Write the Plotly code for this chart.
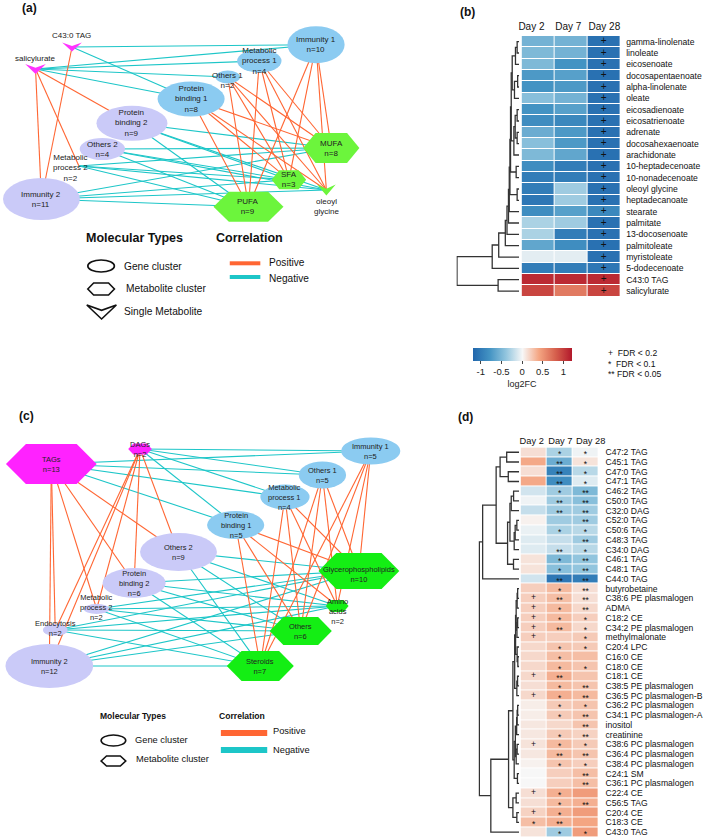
import plotly.graph_objects as go

W, H = 709, 838
FONT = "Liberation Sans, Arial, sans-serif"
INK = "#222222"
POS_COL = "#FF6633"
NEG_COL = "#1DC6C8"

# ====================== DATA ======================
# ---------- (a) network: fatty-acid study ----------
A_NODES = ["Immunity 1", "Metabolic process 1", "Others 1", "Protein binding 1",
           "Protein binding 2", "Others 2", "Metabolic process 2", "Immunity 2",
           "MUFA", "SFA", "PUFA", "C43:0 TAG", "salicylurate", "oleoyl glycine"]
A_NODE_N = [10, 4, 2, 8, 9, 4, 2, 11, 8, 3, 9, None, None, None]
A_KIND = ["gene_up", "gene_up", "gene_up", "gene_up",
          "gene_down", "gene_down", "gene_down", "gene_down",
          "metab_a", "metab_a", "metab_a", "single_mag", "single_mag", "single_green"]
A_TEXT = ["Immunity 1", "Metabolic<br>process 1", "Others 1", "Protein<br>binding 1",
          "Protein<br>binding 2", "Others 2", "Metabolic<br>process 2", "Immunity 2",
          "MUFA", "SFA", "PUFA", "C43:0 TAG", "salicylurate", "oleoyl<br>glycine"]
A_POSITIVE = [
    ("Immunity 1", "MUFA"), ("Immunity 1", "SFA"), ("Immunity 1", "PUFA"), ("Immunity 1", "oleoyl glycine"),
    ("Metabolic process 1", "MUFA"), ("Metabolic process 1", "SFA"), ("Metabolic process 1", "PUFA"), ("Metabolic process 1", "oleoyl glycine"),
    ("Others 1", "MUFA"), ("Others 1", "SFA"), ("Others 1", "PUFA"), ("Others 1", "oleoyl glycine"),
    ("Protein binding 1", "MUFA"), ("Protein binding 1", "SFA"), ("Protein binding 1", "PUFA"), ("Protein binding 1", "oleoyl glycine"),
    ("salicylurate", "Protein binding 2"), ("salicylurate", "Metabolic process 2"), ("salicylurate", "Immunity 2"),
    ("C43:0 TAG", "Immunity 2"),
]
A_NEGATIVE = [
    ("Protein binding 2", "MUFA"), ("Protein binding 2", "SFA"), ("Protein binding 2", "PUFA"), ("Protein binding 2", "oleoyl glycine"),
    ("Others 2", "MUFA"), ("Others 2", "SFA"), ("Others 2", "PUFA"), ("Others 2", "oleoyl glycine"),
    ("Metabolic process 2", "MUFA"), ("Metabolic process 2", "SFA"), ("Metabolic process 2", "PUFA"), ("Metabolic process 2", "oleoyl glycine"),
    ("Immunity 2", "MUFA"), ("Immunity 2", "SFA"), ("Immunity 2", "PUFA"), ("Immunity 2", "oleoyl glycine"),
    ("C43:0 TAG", "Immunity 1"), ("C43:0 TAG", "Protein binding 1"),
    ("salicylurate", "Immunity 1"), ("salicylurate", "Metabolic process 1"),
    ("salicylurate", "Others 1"), ("salicylurate", "Protein binding 1"),
]

# ---------- (c) network: lipid study ----------
C_NODES = ["TAGs", "DAGs", "Immunity 1", "Others 1", "Metabolic process 1", "Protein binding 1",
           "Others 2", "Protein binding 2", "Metabolic process 2", "Endocytosis", "Immunity 2",
           "Glycerophospholipids", "Amino acids", "Others", "Steroids"]
C_NODE_N = [13, 2, 5, 5, 4, 5, 9, 6, 2, 2, 12, 10, 2, 6, 7]
C_KIND = ["metab_mag", "metab_mag", "gene_up", "gene_up", "gene_up", "gene_up",
          "gene_down", "gene_down", "gene_down", "gene_down", "gene_down",
          "metab_c", "metab_c", "metab_c", "metab_c"]
C_TEXT = ["TAGs", "DAGs", "Immunity 1", "Others 1", "Metabolic<br>process 1", "Protein<br>binding 1",
          "Others 2", "Protein<br>binding 2", "Metabolic<br>process 2", "Endocytosis", "Immunity 2",
          "Glycerophospholipids", "Amino<br>acids", "Others", "Steroids"]
C_POSITIVE = [
    ("TAGs", "Others 2"), ("TAGs", "Protein binding 2"), ("TAGs", "Metabolic process 2"), ("TAGs", "Endocytosis"), ("TAGs", "Immunity 2"),
    ("DAGs", "Others 2"), ("DAGs", "Protein binding 2"), ("DAGs", "Metabolic process 2"), ("DAGs", "Endocytosis"), ("DAGs", "Immunity 2"),
    ("Immunity 1", "Glycerophospholipids"), ("Immunity 1", "Amino acids"), ("Immunity 1", "Others"), ("Immunity 1", "Steroids"),
    ("Others 1", "Glycerophospholipids"), ("Others 1", "Amino acids"), ("Others 1", "Others"), ("Others 1", "Steroids"),
    ("Metabolic process 1", "Glycerophospholipids"), ("Metabolic process 1", "Amino acids"), ("Metabolic process 1", "Others"), ("Metabolic process 1", "Steroids"),
    ("Protein binding 1", "Glycerophospholipids"), ("Protein binding 1", "Amino acids"), ("Protein binding 1", "Others"), ("Protein binding 1", "Steroids"),
]
C_NEGATIVE = [
    ("TAGs", "Immunity 1"), ("TAGs", "Others 1"), ("TAGs", "Metabolic process 1"), ("TAGs", "Protein binding 1"),
    ("DAGs", "Immunity 1"), ("DAGs", "Others 1"), ("DAGs", "Metabolic process 1"), ("DAGs", "Protein binding 1"),
    ("Others 2", "Glycerophospholipids"), ("Others 2", "Amino acids"), ("Others 2", "Others"), ("Others 2", "Steroids"),
    ("Protein binding 2", "Glycerophospholipids"), ("Protein binding 2", "Amino acids"), ("Protein binding 2", "Others"), ("Protein binding 2", "Steroids"),
    ("Metabolic process 2", "Glycerophospholipids"), ("Metabolic process 2", "Amino acids"), ("Metabolic process 2", "Others"), ("Metabolic process 2", "Steroids"),
    ("Endocytosis", "Glycerophospholipids"), ("Endocytosis", "Amino acids"), ("Endocytosis", "Others"), ("Endocytosis", "Steroids"),
    ("Immunity 2", "Glycerophospholipids"), ("Immunity 2", "Amino acids"), ("Immunity 2", "Others"), ("Immunity 2", "Steroids"),
]

# ---------- (b) heatmap ----------
DAYS = ["Day 2", "Day 7", "Day 28"]
B_ROWS = ["gamma-linolenate", "linoleate", "eicosenoate", "docosapentaenoate", "alpha-linolenate",
          "oleate", "eicosadienoate", "eicosatrienoate", "adrenate", "docosahexaenoate", "arachidonate",
          "10-heptadecenoate", "10-nonadecenoate", "oleoyl glycine", "heptadecanoate", "stearate",
          "palmitate", "13-docosenoate", "palmitoleate", "myristoleate", "5-dodecenoate",
          "C43:0 TAG", "salicylurate"]
B_DAY2 = [-0.55, -0.5, -0.5, -0.75, -0.8, -0.45, -0.8, -0.85, -0.6, -0.45, -0.5,
          -0.85, -1.0, -1.0, -1.05, -0.85, -0.3, -0.3, -0.65, -0.08, -1.0, 1.1, 0.95]
B_DAY7 = [-0.55, -0.55, -0.8, -0.7, -0.75, -0.55, -0.7, -0.9, -0.75, -0.75, -0.65,
          -1.0, -1.0, -0.35, -0.35, -0.7, -0.35, -1.0, -0.85, -0.08, -1.0, 1.1, 0.65]
B_DAY28 = [-1.1, -1.1, -1.1, -1.1, -1.1, -1.1, -1.1, -1.1, -1.1, -1.1, -1.1,
           -1.1, -1.1, -1.1, -1.1, -0.9, -1.1, -1.1, -1.1, -1.1, -1.05, 1.1, 0.95]
B_SIG_DAY2 = ["", "", "", "", "", "", "", "", "", "", "", "", "", "", "", "", "", "", "", "", "", "", ""]
B_SIG_DAY7 = ["", "", "", "", "", "", "", "", "", "", "", "", "", "", "", "", "", "", "", "", "", "", ""]
B_SIG_DAY28 = ["+", "+", "+", "+", "+", "+", "+", "+", "+", "+", "+", "+", "+", "+", "+", "+",
               "+", "+", "+", "+", "+", "+", "+"]
# hierarchical clustering merges: (left, right, height); "mK" = K-th merge
B_MERGES = [
    (0, 1, 2.0), ("m0", 2, 3.7), (3, 4, 1.5), ("m2", 5, 4.7), ("m1", "m3", 7.0),
    (6, 7, 2.0), (8, 9, 2.0), ("m5", "m6", 4.0), ("m7", 10, 5.3), ("m4", "m8", 8.0),
    (11, 12, 3.0), ("m9", "m10", 8.7), (13, 14, 2.0), ("m11", "m12", 9.3),
    ("m13", 15, 10.0), ("m14", 16, 10.8), ("m15", 17, 12.3), ("m16", 18, 14.0),
    ("m17", 19, 20.7), ("m18", 20, 27.3), (21, 22, 21.3), ("m19", "m20", 63.0),
]

# ---------- (d) heatmap ----------
D_ROWS = ["C47:2 TAG", "C45:1 TAG", "C47:0 TAG", "C47:1 TAG", "C46:2 TAG", "C50:0 TAG",
          "C32:0 DAG", "C52:0 TAG", "C50:6 TAG", "C48:3 TAG", "C34:0 DAG", "C46:1 TAG",
          "C48:1 TAG", "C44:0 TAG", "butyrobetaine", "C38:6 PE plasmalogen", "ADMA",
          "C18:2 CE", "C34:2 PE plasmalogen", "methylmalonate", "C20:4 LPC", "C16:0 CE",
          "C18:0 CE", "C18:1 CE", "C38:5 PE plasmalogen", "C36:5 PC plasmalogen-B",
          "C36:2 PC plasmalogen", "C34:1 PC plasmalogen-A", "inositol", "creatinine",
          "C38:6 PC plasmalogen", "C36:4 PC plasmalogen", "C38:4 PC plasmalogen", "C24:1 SM",
          "C36:1 PC plasmalogen", "C22:4 CE", "C56:5 TAG", "C20:4 CE", "C18:3 CE", "C43:0 TAG"]
D_DAY2 = [0.12, 0.38, 0.12, 0.38, -0.15, -0.03, -0.2, 0.03, -0.05, -0.1, -0.1, 0.1, 0.1, -0.15,
          0.2, 0.2, 0.2, 0.2, 0.2, 0.2, 0.15, 0.15, 0.15, 0.15, 0.12, 0.15,
          0.05, 0.05, 0.08, 0.08, 0.1, 0.08, 0.03, 0.0, 0.0, 0.12, 0.12, 0.18, 0.28, 0.1]
D_DAY7 = [-0.3, -0.6, -0.95, -0.85, -0.35, -0.35, -0.35, -0.35, -0.3, -0.2, -0.2, -0.5, -0.45, -1.05,
          0.3, 0.28, 0.3, 0.3, 0.3, 0.2, 0.25, 0.28, 0.3, 0.35, 0.3, 0.35,
          0.22, 0.22, 0.15, 0.22, 0.3, 0.3, 0.25, 0.2, 0.2, 0.35, 0.3, 0.35, 0.35, -0.35]
D_DAY28 = [-0.03, 0.1, -0.25, -0.1, -0.5, -0.45, -0.35, -0.35, -0.25, -0.35, -0.25, -0.4, -0.4, -1.0,
           0.12, 0.12, 0.15, 0.2, 0.15, 0.22, 0.22, 0.28, 0.25, 0.25, 0.25, 0.3,
           0.25, 0.25, 0.25, 0.18, 0.22, 0.25, 0.2, 0.28, 0.28, 0.45, 0.35, 0.45, 0.4, 0.45]
D_SIG_DAY2 = ["", "", "", "", "", "", "", "", "", "", "", "", "", "",
              "", "+", "+", "+", "+", "+", "", "", "", "+", "", "+",
              "", "", "", "", "+", "", "", "", "", "+", "", "+", "*", ""]
D_SIG_DAY7 = ["*", "**", "**", "**", "*", "**", "**", "", "*", "", "**", "*", "*", "**",
              "*", "**", "*", "*", "**", "", "*", "*", "*", "**", "*", "*",
              "*", "*", "", "*", "*", "**", "*", "", "", "*", "*", "*", "**", "*"]
D_SIG_DAY28 = ["*", "*", "*", "*", "**", "**", "**", "**", "*", "**", "*", "**", "**", "**",
               "**", "**", "**", "*", "*", "*", "*", "", "*", "", "**", "**",
               "*", "**", "**", "**", "*", "**", "*", "**", "**", "", "**", "", "", "*"]
D_MERGES = [
    (0, 1, 12.6), (2, 3, 11.0), ("m0", "m1", 19.3),
    (4, 5, 5.6), ("m3", 6, 8.0), (7, 8, 2.3), ("m5", 9, 4.0), ("m6", 10, 5.0),
    ("m4", "m7", 9.3), (11, 12, 5.7), ("m8", "m9", 11.7), ("m2", "m10", 23.3),
    ("m11", 13, 37.0),
    (14, 15, 1.5), ("m13", 16, 2.0), (17, 18, 1.5), ("m15", 19, 2.2), ("m14", "m16", 3.0),
    (21, 22, 1.3), (20, "m18", 2.0), ("m17", "m19", 3.6), (23, 24, 1.6), ("m21", 25, 2.3),
    ("m20", "m22", 4.5), (26, 27, 1.5), ("m24", 28, 2.0), ("m25", 29, 2.5), (30, 31, 2.0),
    ("m27", 32, 3.0), ("m26", "m28", 3.8), (33, 34, 1.7), ("m29", "m30", 5.0),
    ("m23", "m31", 6.3), (35, 36, 3.0), (37, 38, 2.3), ("m33", "m34", 6.3),
    ("m32", "m35", 10.7), ("m36", 39, 28.7), ("m12", "m37", 40.3),
]

# ====================== NETWORK LAYOUTS (page pixels: cx, cy, w, h) ======================
A_LAYOUT = {
    "Immunity 1": (317.5, 44.7, 58, 37), "Metabolic process 1": (260, 61, 45, 23),
    "Others 1": (228, 77, 25, 13), "Protein binding 1": (190.8, 99, 68, 35),
    "Protein binding 2": (130.8, 123.3, 72, 35), "Others 2": (100.8, 149, 46, 22),
    "Metabolic process 2": (77, 166, 0, 0), "Immunity 2": (39, 199, 78, 42),
    "MUFA": (333, 148, 57, 30), "SFA": (290, 179.7, 35, 19), "PUFA": (249, 206.7, 71, 30),
    "C43:0 TAG": (70, 47, 20, 9), "salicylurate": (33, 69, 21, 10), "oleoyl glycine": (328, 190, 19, 11),
}
A_LABEL_SHIFT = {"Metabolic process 2": (-9, 2), "Others 1": (0, 3), "C43:0 TAG": (-1, -12),
                 "salicylurate": (0, -11), "oleoyl glycine": (0, 16)}
C_LAYOUT = {
    "TAGs": (49, 464, 92, 40), "DAGs": (139, 449, 24, 11),
    "Immunity 1": (373, 451, 60, 27), "Others 1": (324, 475, 48, 27),
    "Metabolic process 1": (286, 497, 50, 25), "Protein binding 1": (236, 525, 58, 28),
    "Others 2": (178, 552, 78, 38), "Protein binding 2": (133, 583, 64, 30),
    "Metabolic process 2": (95, 609, 26, 10), "Endocytosis": (53, 630, 25, 12),
    "Immunity 2": (47, 666, 89, 44), "Glycerophospholipids": (361, 571, 82, 36),
    "Amino acids": (339, 606, 23, 12), "Others": (302, 631, 63, 28), "Steroids": (261, 666, 68, 30),
}
C_LABEL_SHIFT = {"Glycerophospholipids": (0, 3), "Amino acids": (0, 5),
                 "Metabolic process 2": (0, -2), "Endocytosis": (0, -2)}

KIND_STYLE = {
    "gene_up": ("ellipse", "#8BCBF1"),
    "gene_down": ("ellipse", "#CACAF8"),
    "metab_a": ("hexagon", "#6CF53C"),
    "metab_c": ("hexagon", "#14EE14"),
    "metab_mag": ("hexagon", "#FF22FF"),
    "single_mag": ("arrow", "#FF33FF"),
    "single_green": ("arrow", "#6CF53C"),
}

RDBU = [[0, "#2166AC"], [1 / 6, "#4393C3"], [2 / 6, "#92C5DE"], [3 / 6, "#F7F7F7"],
        [4 / 6, "#F4A582"], [5 / 6, "#D6604D"], [1, "#B2182B"]]


# ====================== HELPERS ======================
def poly_path(pts):
    return "M " + " L ".join(f"{x:.2f},{y:.2f}" for x, y in pts) + " Z"


def hex_pts(cx, cy, w, h, f=0.28):
    return [(cx - w / 2, cy), (cx - f * w, cy - h / 2), (cx + f * w, cy - h / 2),
            (cx + w / 2, cy), (cx + f * w, cy + h / 2), (cx - f * w, cy + h / 2)]


def arrow_pts(cx, cy, w, h):
    return [(cx - w / 2, cy - h / 2), (cx, cy - h / 2 + 0.38 * h), (cx + w / 2, cy - h / 2), (cx, cy + h / 2)]


def node_shape(kind, cx, cy, w, h, fill, outline=None):
    line = dict(width=0) if outline is None else dict(color=outline, width=1.6)
    if kind == "ellipse":
        return dict(type="circle", xref="x", yref="y", x0=cx - w / 2, x1=cx + w / 2,
                    y0=cy - h / 2, y1=cy + h / 2, fillcolor=fill, line=line, layer="above")
    pts = hex_pts(cx, cy, w, h) if kind == "hexagon" else arrow_pts(cx, cy, w, h)
    return dict(type="path", xref="x", yref="y", path=poly_path(pts), fillcolor=fill, line=line, layer="above")


def dendro(merges):
    pos = {}
    xs, ys = [], []

    def get(ref):
        if isinstance(ref, int):
            return 0.0, float(ref)
        return pos[ref]

    for k, (a, b, h) in enumerate(merges):
        ha, ya = get(a)
        hb, yb = get(b)
        xs += [ha, h, h, hb, None]
        ys += [ya, ya, yb, yb, None]
        pos[f"m{k}"] = (h, (ya + yb) / 2)
    return xs, ys


fig = go.Figure()
shapes, annotations = [], []


def draw_network(nodes, ns, kinds, texts, layout, shift, pos_edges, neg_edges, fsize):
    for edges, col in ((neg_edges, NEG_COL), (pos_edges, POS_COL)):
        xs, ys = [], []
        for s, t in edges:
            xs += [layout[s][0], layout[t][0], None]
            ys += [layout[s][1], layout[t][1], None]
        fig.add_trace(go.Scatter(x=xs, y=ys, mode="lines", line=dict(color=col, width=1.1),
                                 hoverinfo="skip", showlegend=False, xaxis="x", yaxis="y"))
    for name, n, kind, text in zip(nodes, ns, kinds, texts):
        cx, cy, w, h = layout[name]
        sk, col = KIND_STYLE[kind]
        if w > 0:
            shapes.append(node_shape(sk, cx, cy, w, h, col))
        dx, dy = shift.get(name, (0, 0))
        label = text if n is None else f"{text}<br>n={n}"
        annotations.append(dict(x=cx + dx, y=cy + dy, xref="x", yref="y", text=label, showarrow=False,
                                align="center", font=dict(size=fsize, color=INK, family=FONT)))


draw_network(A_NODES, A_NODE_N, A_KIND, A_TEXT, A_LAYOUT, A_LABEL_SHIFT, A_POSITIVE, A_NEGATIVE, 8)
draw_network(C_NODES, C_NODE_N, C_KIND, C_TEXT, C_LAYOUT, C_LABEL_SHIFT, C_POSITIVE, C_NEGATIVE, 7.5)


def txt(x, y, s, size, bold=False, anchor="left"):
    annotations.append(dict(x=x, y=y, xref="x", yref="y", text=f"<b>{s}</b>" if bold else s,
                            showarrow=False, xanchor=anchor, yanchor="middle",
                            font=dict(size=size, color="#111111", family=FONT)))


# panel letters
txt(17, 8, "(a)", 12, True)
txt(461, 12, "(b)", 12, True)
txt(14, 416, "(c)", 12, True)
txt(459, 417, "(d)", 12, True)

# legend (a)
txt(82, 238, "Molecular Types", 12.5, True)
txt(214, 238, "Correlation", 12.5, True)
shapes.append(node_shape("ellipse", 99.5, 266, 27, 12, "rgba(0,0,0,0)", "#111111"))
shapes.append(node_shape("hexagon", 99.5, 289, 27, 12, "rgba(0,0,0,0)", "#111111"))
shapes.append(node_shape("arrow", 100, 312, 30, 14, "rgba(0,0,0,0)", "#111111"))
txt(121, 266, "Gene cluster", 10.2)
txt(122.5, 288, "Metabolite cluster", 10.2)
txt(121, 311, "Single Metabolite", 10.2)
shapes.append(dict(type="line", xref="x", yref="y", x0=230, x1=261, y0=263.3, y1=263.3,
                   line=dict(color=POS_COL, width=4), layer="above"))
shapes.append(dict(type="line", xref="x", yref="y", x0=230, x1=261, y0=277, y1=277,
                   line=dict(color=NEG_COL, width=4), layer="above"))
txt(268, 262, "Positive", 10.1)
txt(268, 278, "Negative", 10.1)

# legend (c)
txt(96, 716, "Molecular Types", 8.5, True)
txt(217, 716, "Correlation", 8.6, True)
shapes.append(node_shape("ellipse", 112, 740.5, 25, 11, "rgba(0,0,0,0)", "#111111"))
shapes.append(node_shape("hexagon", 112, 761, 25, 10, "rgba(0,0,0,0)", "#111111"))
txt(131.5, 740, "Gene cluster", 9.3)
txt(133, 759, "Metabolite cluster", 9.3)
shapes.append(dict(type="line", xref="x", yref="y", x0=221, x1=268, y0=733, y1=733,
                   line=dict(color=POS_COL, width=6), layer="above"))
shapes.append(dict(type="line", xref="x", yref="y", x0=221, x1=268, y0=750, y1=750,
                   line=dict(color=NEG_COL, width=6), layer="above"))
txt(272, 731, "Positive", 9.3)
txt(272, 750, "Negative", 9.3)

# ====================== HEATMAPS ======================
COLS = [0, 1, 2]
zb = [[a, b, c] for a, b, c in zip(B_DAY2, B_DAY7, B_DAY28)]
zd = [[a, b, c] for a, b, c in zip(D_DAY2, D_DAY7, D_DAY28)]

fig.add_trace(go.Heatmap(
    z=zb, x=COLS, y=list(range(len(B_ROWS))), colorscale=RDBU, zmin=-1.2, zmax=1.2,
    xgap=1, ygap=1, xaxis="x2", yaxis="y2", hoverinfo="skip", showscale=True,
    colorbar=dict(orientation="h", x=526.5 / W, xanchor="center", y=1 - 348 / H, yanchor="top",
                  len=99, lenmode="pixels", thickness=13, xpad=0, ypad=0, outlinewidth=0,
                  tickvals=[-1, -0.5, 0, 0.5, 1], ticktext=["-1", "-0.5", "0", "0.5", "1"],
                  ticks="outside", ticklen=3, tickcolor="#444444",
                  tickfont=dict(size=9.5, color="#222222", family=FONT),
                  title=dict(text="log2FC", side="bottom", font=dict(size=9, color="#222222", family=FONT)))))
fig.add_trace(go.Heatmap(
    z=zd, x=COLS, y=list(range(len(D_ROWS))), colorscale=RDBU, zmin=-1.2, zmax=1.2,
    xgap=1, ygap=1, xaxis="x4", yaxis="y4", hoverinfo="skip", showscale=False))


def sig_trace(cols, xa, ya, size, star_dy):
    xs, ys, ts = [], [], []
    for j, col in zip(COLS, cols):
        for i, s in enumerate(col):
            if s:
                xs.append(j)
                ys.append(i + (0 if s == "+" else star_dy))
                ts.append(s)
    return go.Scatter(x=xs, y=ys, text=ts, mode="text", textposition="middle center",
                      textfont=dict(size=size, color="#111111", family=FONT),
                      xaxis=xa, yaxis=ya, hoverinfo="skip", showlegend=False, cliponaxis=False)


fig.add_trace(sig_trace([B_SIG_DAY2, B_SIG_DAY7, B_SIG_DAY28], "x2", "y2", 10, 0.25))
fig.add_trace(sig_trace([D_SIG_DAY2, D_SIG_DAY7, D_SIG_DAY28], "x4", "y4", 8.5, 0.3))

bx, by = dendro(B_MERGES)
fig.add_trace(go.Scatter(x=bx, y=by, mode="lines", line=dict(color="#333333", width=1.3),
                         xaxis="x3", yaxis="y3", hoverinfo="skip", showlegend=False, cliponaxis=False))
dx_, dy_ = dendro(D_MERGES)
fig.add_trace(go.Scatter(x=dx_, y=dy_, mode="lines", line=dict(color="#333333", width=1.3),
                         xaxis="x5", yaxis="y5", hoverinfo="skip", showlegend=False, cliponaxis=False))

# FDR legend
txt(612, 353, "+  FDR < 0.2", 8.6)
txt(612, 363.5, "*  FDR < 0.1", 8.6)
txt(612, 374, "** FDR < 0.05", 8.6)

hidden = dict(visible=False, showgrid=False, zeroline=False, fixedrange=True)
b_y = [1 - 296.7 / H, 1 - 36 / H]
d_y = [1 - 836.9 / H, 1 - 447.4 / H]
fig.update_layout(
    width=W, height=H, margin=dict(l=0, r=0, t=0, b=0),
    paper_bgcolor="white", plot_bgcolor="rgba(0,0,0,0)",
    font=dict(family=FONT, color=INK),
    showlegend=False,
    xaxis=dict(domain=[0, 1], range=[0, W], anchor="y", **hidden),
    yaxis=dict(domain=[0, 1], range=[H, 0], anchor="x", **hidden),
    xaxis2=dict(domain=[526 / W, 626 / W], anchor="y2", side="top", range=[-0.5, 2.5],
                tickvals=[-0.2, 0.92, 2.02], ticktext=DAYS, showgrid=False, zeroline=False,
                showline=False, ticks="", tickangle=0, tickfont=dict(size=10, color="#111111"),
                ticklabelstandoff=3),
    yaxis2=dict(domain=b_y, anchor="x2", side="right", range=[len(B_ROWS) - 0.5, -0.5],
                tickvals=list(range(len(B_ROWS))), ticktext=B_ROWS, showgrid=False, zeroline=False,
                showline=False, ticks="", tickfont=dict(size=8.6, color="#111111"), ticklabelstandoff=5),
    xaxis3=dict(domain=[460 / W, 523.5 / W], anchor="y3", range=[63.5, 0], **hidden),
    yaxis3=dict(domain=b_y, anchor="x3", range=[len(B_ROWS) - 0.5, -0.5], **hidden),
    xaxis4=dict(domain=[525 / W, 604 / W], anchor="y4", side="top", range=[-0.5, 2.5],
                tickvals=[-0.07, 1.03, 2.2], ticktext=DAYS, showgrid=False, zeroline=False,
                showline=False, ticks="", tickangle=0, tickfont=dict(size=9.3, color="#111111"),
                ticklabelstandoff=1),
    yaxis4=dict(domain=d_y, anchor="x4", side="right", range=[len(D_ROWS) - 0.5, -0.5],
                tickvals=list(range(len(D_ROWS))), ticktext=D_ROWS, showgrid=False, zeroline=False,
                showline=False, ticks="", tickfont=dict(size=8.6, color="#111111"), ticklabelstandoff=6),
    xaxis5=dict(domain=[482 / W, 523.5 / W], anchor="y5", range=[41.5, 0], **hidden),
    yaxis5=dict(domain=d_y, anchor="x5", range=[len(D_ROWS) - 0.5, -0.5], **hidden),
    shapes=shapes, annotations=annotations,
)

fig.write_html("out.html", config={"displayModeBar": False},
               post_script="document.body.style.margin='0px';")
